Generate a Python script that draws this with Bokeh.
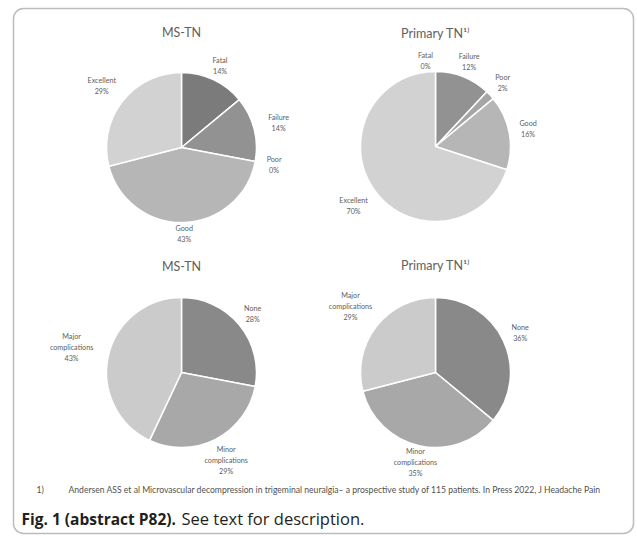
import math
from bokeh.plotting import figure
from bokeh.models import Range1d, BoxAnnotation, ColumnDataSource
from bokeh.core.properties import value
from bokeh.embed import file_html
from bokeh.resources import INLINE

# ---- data ----
outcome_labels = ["Fatal", "Failure", "Poor", "Good", "Excellent"]
ms_tn_outcome = [14, 14, 0, 43, 29]
primary_tn_outcome = [0, 12, 2, 16, 70]
outcome_colors = ["#7b7b7b", "#929292", "#a6a6a6", "#b6b6b6", "#d2d2d2"]

compl_labels = ["None", "Minor complications", "Major complications"]
ms_tn_compl = [28, 29, 43]
primary_tn_compl = [36, 35, 29]
compl_colors = ["#898989", "#a8a8a8", "#cbcbcb"]

titles = ["MS-TN", "Primary TN¹⁾", "MS-TN", "Primary TN¹⁾"]
footnote_num = "1)"
footnote = ("Andersen ASS et al Microvascular decompression in trigeminal neuralgia\u2013 "
            "a prospective study of 115 patients. In Press 2022, J Headache Pain")
caption_bold = "Fig. 1 (abstract P82)."
caption_rest = "See text for description."

# ---- layout (screen coords) ----
W, H = 637, 536
def Y(y):
    return H - y

R = 75
FONT = "Lato"
LABEL_COLOR = "#606060"

p = figure(width=W, height=H, x_range=Range1d(0, W), y_range=Range1d(0, H),
           output_backend="svg", toolbar_location=None, min_border=0)
p.axis.visible = False
p.grid.visible = False
p.outline_line_color = None
p.background_fill_color = "white"
p.border_fill_color = "white"

def pie(cx, cy, values, labels, colors, title, ty, label_off=None):
    total = float(sum(values))
    xs, ys, ss, es, cs = [], [], [], [], []
    starts, ends = [], []
    cum = 0.0
    for v, c in zip(values, colors):
        a0 = math.pi / 2 - 2 * math.pi * cum / total
        cum += v
        a1 = math.pi / 2 - 2 * math.pi * cum / total
        starts.append(a0)
        ends.append(a1)
        if v > 0:
            xs.append(cx); ys.append(Y(cy)); ss.append(a0); es.append(a1); cs.append(c)
    src = ColumnDataSource(dict(x=xs, y=ys, s=ss, e=es, c=cs))
    p.wedge(x="x", y="y", radius=R, start_angle="s", end_angle="e", direction="clock",
            fill_color="c", line_color="white", line_width=1.5, source=src)
    # labels
    for i, (lab, v) in enumerate(zip(labels, values)):
        mid = (starts[i] + ends[i]) / 2
        words = lab.split(" ")
        lines = words + [f"{v}%"]
        wmax = max(len(w) for w in lines) * 4.2
        d = 86 + 0.5 * wmax * abs(math.cos(mid))
        lx = cx + d * math.cos(mid)
        ly = cy - d * math.sin(mid)
        if label_off and i in label_off:
            lx += label_off[i][0]
            ly += label_off[i][1]
        n = len(lines)
        for k, ln in enumerate(lines):
            yy = ly + (k - (n - 1) / 2) * 11
            p.text(x=[lx], y=[Y(yy)], text=[ln], text_font=value(FONT),
                   text_font_size="7.2px", text_color=LABEL_COLOR,
                   text_align="center", text_baseline="middle")
    p.text(x=[cx], y=[Y(ty)], text=[title], text_font=value(FONT),
           text_font_size="12.5px", text_color=LABEL_COLOR,
           text_align="center", text_baseline="middle")

pie(181, 147, ms_tn_outcome, outcome_labels, outcome_colors, titles[0], 32)
pie(435, 146, primary_tn_outcome, outcome_labels, outcome_colors, titles[1], 33,
    label_off={0: (-10, 0)})
pie(181, 372, ms_tn_compl, compl_labels, compl_colors, titles[2], 266)
pie(435, 372, primary_tn_compl, compl_labels, compl_colors, titles[3], 265)

# footnote
p.text(x=[36], y=[Y(489)], text=[footnote_num], text_font=value(FONT),
       text_font_size="8.6px", text_color="#505050", text_baseline="middle")
p.text(x=[68], y=[Y(489)], text=[footnote], text_font=value(FONT),
       text_font_size="8.6px", text_color="#505050", text_baseline="middle")

# caption
p.text(x=[21], y=[Y(518)], text=[caption_bold], text_font=value("Open Sans"),
       text_font_size="15.5px", text_font_style="bold", text_color="#231f20",
       text_baseline="middle")
p.text(x=[181], y=[Y(518)], text=[caption_rest], text_font=value("Open Sans"),
       text_font_size="16.5px", text_color="#231f20", text_baseline="middle")

# rounded frame
p.add_layout(BoxAnnotation(left=13, right=633, bottom=Y(533), top=Y(8),
                           border_radius=10, fill_alpha=0, line_color="#222222",
                           line_width=1.5))

open("out.html", "w").write(file_html(p, INLINE))
